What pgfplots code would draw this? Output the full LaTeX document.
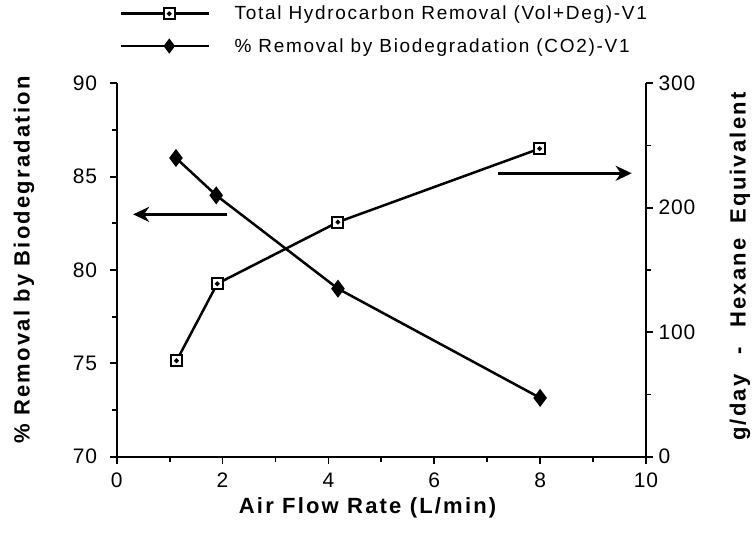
\documentclass[border=0pt]{standalone}
\usepackage{fontspec}
\setmainfont{Liberation Sans}
\newfontfamily\lblfont{Liberation Sans}[LetterSpace=10]
\newfontfamily\legfont{Liberation Sans}[LetterSpace=9]
\newfontfamily\tickfont{Liberation Sans}[LetterSpace=4]
\usepackage{pgfplots}
\pgfplotsset{compat=1.18}
\usetikzlibrary{arrows.meta}

\pgfdeclareplotmark{sqdot}{%
  \pgfpathrectangle{\pgfqpoint{-\pgfplotmarksize}{-\pgfplotmarksize}}{\pgfqpoint{2\pgfplotmarksize}{2\pgfplotmarksize}}%
  \pgfusepathqfillstroke
  \pgfpathcircle{\pgfpointorigin}{0.22\pgfplotmarksize}%
  \pgfusepathqstroke
}

\pgfplotstableread{
x y
1.12 86.0
1.88 84.0
4.18 79.0
8.00 73.15
}\biodeg

\pgfplotstableread{
x y
1.13 77
1.90 139
4.18 188.5
7.99 247.5
}\total

\pgfplotsset{
  common/.style={
    scale only axis, width=529.3pt, height=373.4pt,
    at={(0,0)}, anchor=south west,
    xmin=0, xmax=10,
    tick align=outside, major tick length=7pt, minor tick length=5pt,
    every tick/.style={black, line width=1.8pt},
    axis line style={line width=2pt},
    tick label style={font=\tickfont\fontsize{21}{24}\selectfont},
    /pgf/number format/assume math mode=true,
    label style={font=\lblfont\bfseries\fontsize{22}{26}\selectfont},
    clip=false,
  },
}

\begin{document}
\begin{tikzpicture}
\useasboundingbox (-116.7pt,-76.3pt) rectangle (636.3pt,456.7pt);
\begin{axis}[
  common,
  ymin=70, ymax=90,
  axis x line*=bottom, axis y line*=left,
  xtick={0,2,4,6,8,10}, ytick={70,75,80,85,90},
  minor x tick num=1, minor y tick num=1,
  xticklabel style={yshift=-6pt},
  yticklabel style={xshift=-9pt},
  xlabel={Air Flow Rate (L/min)},
  ylabel={\% Removal by Biodegradation},
  xlabel style={at={(axis description cs:0.474,0)}, anchor=north, yshift=-37pt},
  ylabel style={at={(axis description cs:-0.1751,0.527)}, anchor=center},
]
\addplot[black, line width=2.5pt, mark=diamond*, mark size=7pt, mark options={solid, fill=black}] table {\biodeg};
\draw[line width=2.5pt, -{Stealth[length=16pt, width=15pt, inset=5pt]}] (axis cs:2.08,82.98) -- (axis cs:0.31,82.98);
\draw[line width=2.5pt, -{Stealth[length=16pt, width=15pt, inset=5pt]}] (axis cs:7.21,85.18) -- (axis cs:9.73,85.18);
\end{axis}
\begin{axis}[
  common,
  ymin=0, ymax=300,
  axis y line*=right, axis x line=none,
  ytick={0,100,200,300}, minor y tick num=1,
  yticklabel style={xshift=2pt},
  ylabel={g/day\hspace{0.9em}-\hspace{0.9em}Hexane\hspace{0.3em} Equivalent},
  ylabel style={at={(axis description cs:1.1776,0.509)}, anchor=center},
  legend style={draw=none, fill=none, at={(axis description cs:0.006,1.2126)}, anchor=north west,
    font=\legfont\fontsize{19}{22}\selectfont, row sep=13pt, inner sep=0pt,
    /tikz/column 1/.style={column sep=22pt}},
  legend cell align=left,
  legend image code/.code={\draw[mark repeat=2, mark phase=2, #1] plot coordinates {(0pt,0pt) (48pt,0pt) (88pt,0pt)};},
]
\addplot[black, line width=2.5pt, mark=sqdot, mark size=5.5pt, mark options={solid, fill=white, line width=2pt}] table {\total};
\addlegendentry{Total Hydrocarbon Removal (Vol+Deg)-V1}
\addlegendimage{black, line width=2pt, mark=diamond*, mark size=6pt, mark options={solid, fill=black}}
\addlegendentry{\% Removal by Biodegradation (CO2)-V1}
\end{axis}
\end{tikzpicture}
\end{document}
